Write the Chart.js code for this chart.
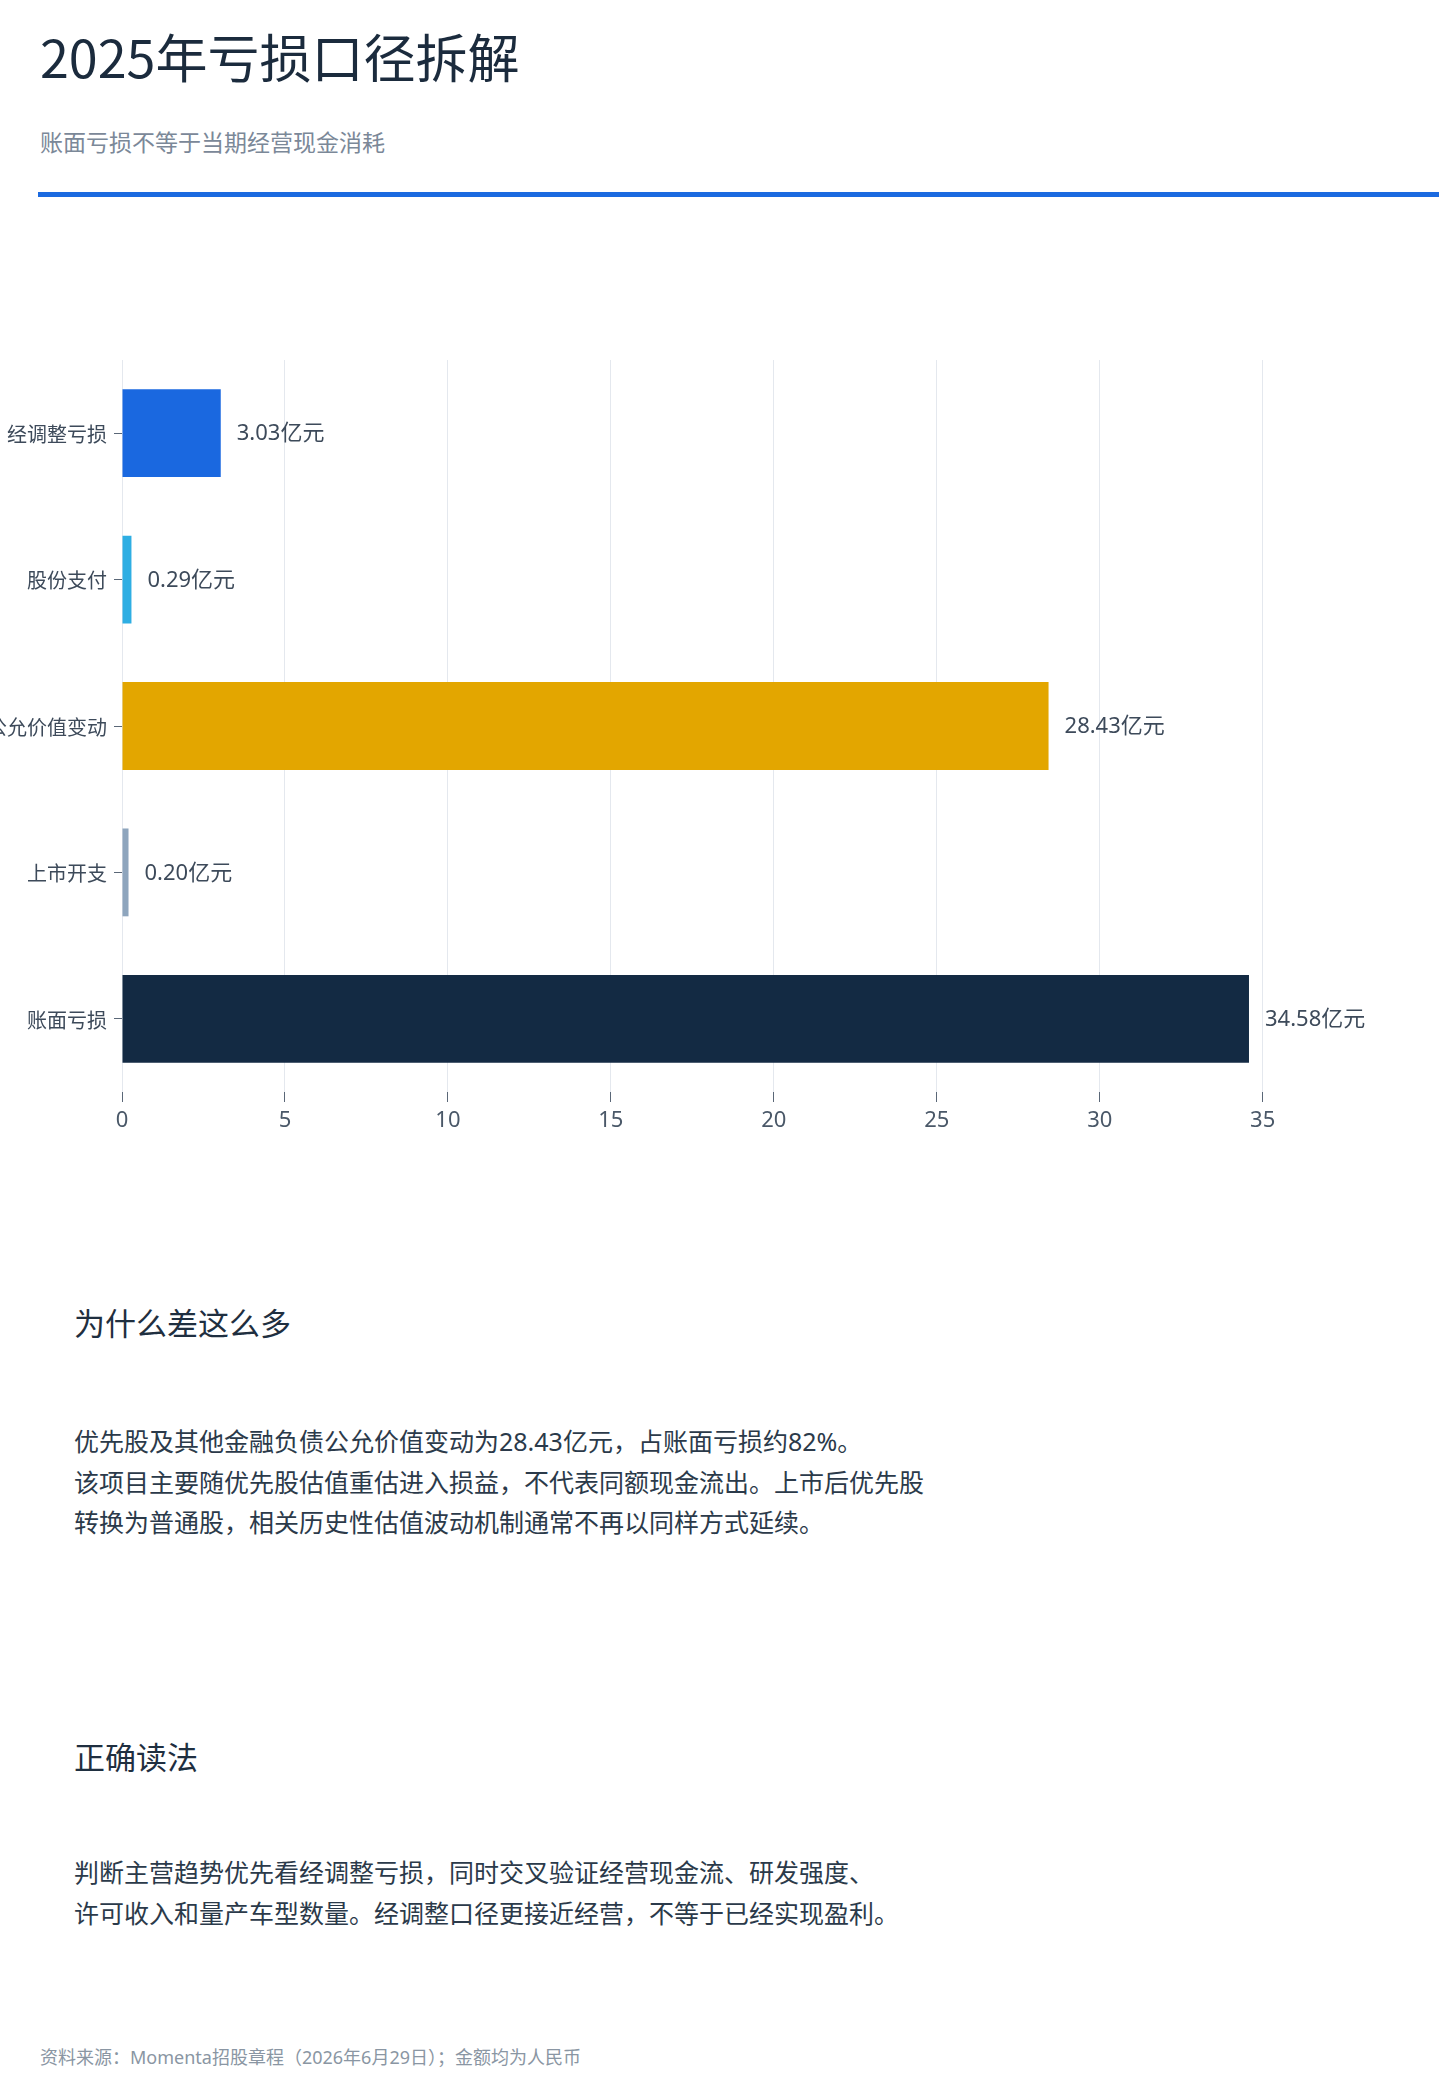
<!DOCTYPE html>
<html lang="zh-CN">
<head>
<meta charset="utf-8">
<title>2025年亏损口径拆解</title>
<script src="https://cdn.jsdelivr.net/npm/chart.js@4.4.1/dist/chart.umd.min.js"></script>
<style>
  html, body { margin:0; padding:0; background:#ffffff; }
  body { width:1439px; height:2100px; position:relative; overflow:hidden;
         font-family:"Noto Sans","Noto Sans CJK SC",sans-serif; }
  .abs { position:absolute; white-space:nowrap; }
  #title { left:40px; top:30px; font-size:52px; line-height:1; color:#1b2b3d; font-weight:400;
           font-family:"Noto Sans CJK SC","Noto Sans",sans-serif; }
  #subtitle { left:40px; top:131px; font-size:23px; line-height:1; color:#7b8898; }
  #rule { left:38px; right:0; top:192px; height:5px; background:#1b6ae0; }
  #chartBox { left:0; top:300px; width:1439px; height:860px; }
  .h2 { left:74px; font-size:31px; line-height:1; color:#1f2f40; }
  .para { left:74px; font-size:25px; line-height:40.5px; color:#2b3a4a; }
  #footer { left:40px; top:2048px; font-size:18px; line-height:1; color:#8a96a3; }
</style>
</head>
<body>
<div class="abs" id="title">2025年亏损口径拆解</div>
<div class="abs" id="subtitle">账面亏损不等于当期经营现金消耗</div>
<div class="abs" id="rule"></div>
<div class="abs" id="chartBox"><canvas id="c"></canvas></div>

<div class="abs h2" style="top:1308px;">为什么差这么多</div>
<div class="abs para" style="top:1421px;">优先股及其他金融负债公允价值变动为28.43亿元，占账面亏损约82%。<br>该项目主要随优先股估值重估进入损益，不代表同额现金流出。上市后优先股<br>转换为普通股，相关历史性估值波动机制通常不再以同样方式延续。</div>

<div class="abs h2" style="top:1742px;">正确读法</div>
<div class="abs para" style="top:1852px;">判断主营趋势优先看经调整亏损，同时交叉验证经营现金流、研发强度、<br>许可收入和量产车型数量。经调整口径更接近经营，不等于已经实现盈利。</div>

<div class="abs" id="footer">资料来源：Momenta招股章程（2026年6月29日）；金额均为人民币</div>

<script>
// ---- data ----
const categories = ['经调整亏损', '股份支付', '优先股及其他金融负债公允价值变动', '上市开支', '账面亏损'];
const values = [3.03, 0.29, 28.43, 0.20, 34.58];
const valueLabels = ['3.03亿元', '0.29亿元', '28.43亿元', '0.20亿元', '34.58亿元'];
const xTicks = [0, 5, 10, 15, 20, 25, 30, 35];
const barColors = ['#1a68e0', '#2eaee3', '#e3a600', '#8ea5bd', '#132a43'];

const FONT = '"Noto Sans","Noto Sans CJK SC",sans-serif';

const valueLabelPlugin = {
  id: 'valueLabels',
  afterDatasetsDraw(chart) {
    const ctx = chart.ctx;
    const meta = chart.getDatasetMeta(0);
    ctx.save();
    ctx.font = '22px ' + FONT;
    ctx.fillStyle = '#3d4a5a';
    ctx.textAlign = 'left';
    ctx.textBaseline = 'middle';
    meta.data.forEach((el, i) => {
      ctx.fillText(valueLabels[i], el.x + 16, el.y + 1);
    });
    ctx.restore();
  }
};

new Chart(document.getElementById('c'), {
  type: 'bar',
  data: {
    labels: categories,
    datasets: [{
      data: values,
      backgroundColor: barColors,
      borderWidth: 0,
      barPercentage: 0.6,
      categoryPercentage: 1.0
    }]
  },
  options: {
    indexAxis: 'y',
    responsive: true,
    maintainAspectRatio: false,
    animation: false,
    layout: { padding: { top: 60, right: 59, bottom: 0, left: 0 } },
    plugins: { legend: { display: false }, tooltip: { enabled: false } },
    scales: {
      x: {
        min: 0,
        max: 38.6,
        afterBuildTicks(scale) { scale.ticks = xTicks.map(v => ({ value: v })); },
        afterFit(scale) { scale.height = 68; },
        border: { display: false },
        grid: { color: '#e4e8ee', lineWidth: 1, tickLength: 10, tickColor: '#5a6777', drawTicks: true },
        ticks: { color: '#4a5868', font: { family: FONT, size: 22 }, padding: 6, maxRotation: 0, autoSkip: false }
      },
      y: {
        afterFit(scale) { scale.width = 122; },
        border: { display: false },
        grid: { offset: false, drawOnChartArea: false, drawTicks: true, tickLength: 8, tickColor: '#5a6777' },
        ticks: { color: '#3d4a5a', font: { family: FONT, size: 20 }, padding: 7, labelOffset: 3, autoSkip: false }
      }
    }
  },
  plugins: [valueLabelPlugin]
});
</script>
</body>
</html>
